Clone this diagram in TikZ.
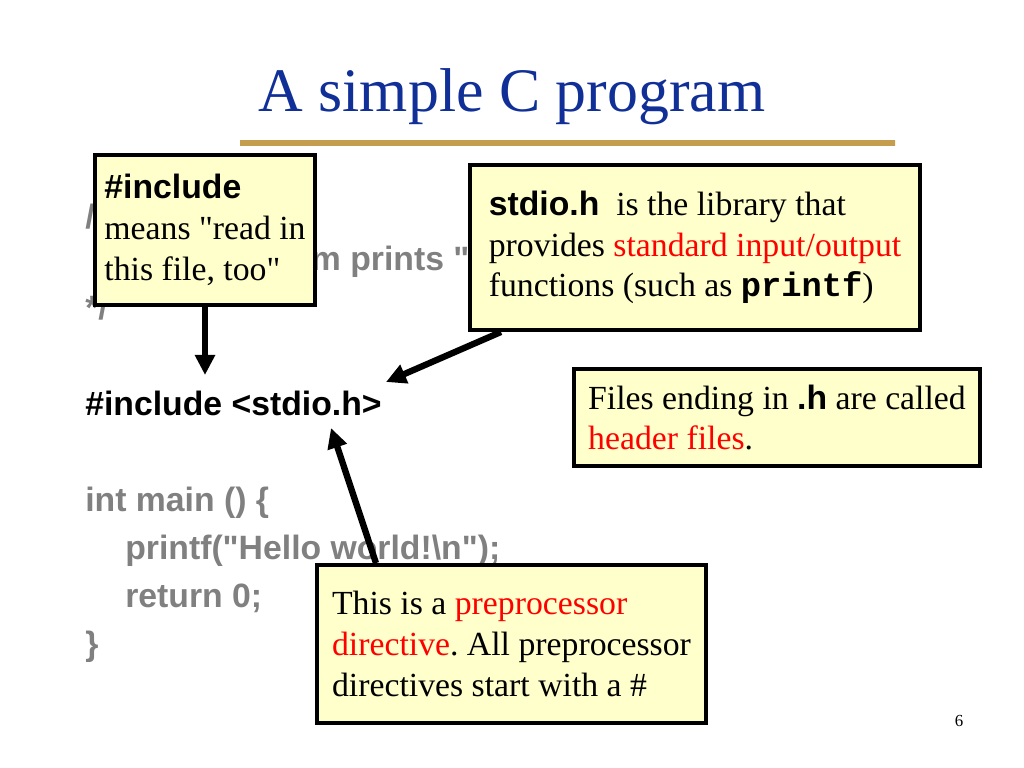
\documentclass[tikz,border=0pt]{standalone}
\usepackage{fontspec}
\setmainfont{Liberation Serif}[Ligatures=TeXOff]
\setsansfont{Liberation Sans}[Ligatures=TeXOff]
\setmonofont{Liberation Mono}
\usepackage{xcolor}
\usetikzlibrary{arrows.meta, positioning}

\definecolor{notefill}{RGB}{255,255,204}
\definecolor{titleblue}{RGB}{16,48,152}
\definecolor{codegray}{RGB}{128,128,128}
\definecolor{goldA}{RGB}{196,158,78}
\definecolor{goldB}{RGB}{238,206,120}

\frenchspacing

\begin{document}
\begin{tikzpicture}[
    x=0.025cm, y=-0.025cm,
    code/.style={anchor=base west, inner sep=0pt, font=\fontsize{24}{28}\sffamily\bfseries, text=codegray},
    note/.style={draw, line width=2.8pt, fill=notefill, inner sep=0pt, align=left, font=\fontsize{24}{29}\selectfont},
    arrow/.style={-{Triangle[length=0.5cm, width=0.48cm]}, line width=4.5pt}
]
    \useasboundingbox (0,0) rectangle (1024,768);

    % title and rule
    \node[anchor=base, font=\fontsize{44}{50}\selectfont, text=titleblue] (title) at (512,112) {A simple C program};
    \fill[left color=goldA, middle color=goldB, right color=goldA] (240,141) rectangle (895,146);

    % the program
    \node[code] (cmta) at (85,228) {/*};
    \node[code] (cmtb) at (125,270) {This program prints "Hello world!"};
    \node[code] (cmtc) at (85,319) {*/};
    \node[code, text=black] (incl) at (85,415) {\#include <stdio.h>};
    \node[code] (mainl) at (85,511) {int main () \{};
    \node[code] (printl) at (125,559) {printf("Hello world!\textbackslash n");};
    \node[code] (retl) at (125,607) {return 0;};
    \node[code] (closel) at (85,655) {\}};

    % notes
    \node[note, minimum width=5.5cm, minimum height=3.75cm] (incnote) at (205,230)
        {{\sffamily\bfseries \#include}\\means "read in\\this file, too"};
    \node[note, minimum width=11.25cm, minimum height=4.125cm] (stdnote) at (695,247.5)
        {{\sffamily\bfseries stdio.h}\ \ is the library that\\provides \textcolor{red}{standard input/output}\\functions (such as {\ttfamily\bfseries printf})};
    \node[note, minimum width=10.15cm, minimum height=2.425cm] (hdrnote) at (777,417.5)
        {Files ending in {\sffamily\bfseries .h} are called\\\textcolor{red}{header files}.};
    \node[note, minimum width=9.725cm, minimum height=3.95cm] (prepnote) at (511.5,644)
        {This is a \textcolor{red}{preprocessor}\\\textcolor{red}{directive}. All preprocessor\\directives start with a \#};

    \node[anchor=base, font=\fontsize{12}{14}\selectfont] (pagenum) at (959,726) {6};

    % arrows
    \coordinate (tipa) at (205,375);
    \coordinate (tipb) at (386,382);
    \coordinate (tipc) at (331,428);
    \draw[arrow] (incnote) -- (tipa);
    \draw[arrow] (stdnote) -- (tipb);
    \draw[arrow] ([xshift=1.525cm]prepnote.north west) -- (tipc);
\end{tikzpicture}
\end{document}
